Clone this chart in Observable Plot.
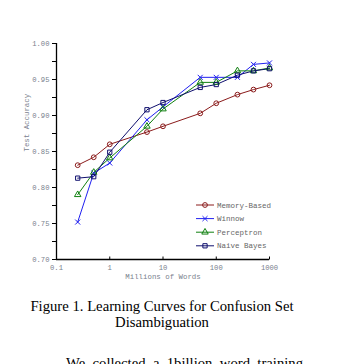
<!DOCTYPE html>
<html><head><meta charset="utf-8">
<script src="https://cdn.jsdelivr.net/npm/d3@7"></script>
<script src="https://cdn.jsdelivr.net/npm/@observablehq/plot@0.6"></script>
<style>
html,body{margin:0;padding:0;background:#fff;width:347px;height:364px;overflow:hidden;position:relative;}
#chart{position:absolute;left:0;top:0;}
#legend{position:absolute;left:0;top:0;}
.cap{position:absolute;font-family:"Liberation Serif","Times New Roman",serif;color:#000;white-space:nowrap;}
</style></head>
<body>
<div id="chart"></div>
<svg id="legend" width="347" height="290"></svg>
<div class="cap" id="cap1" style="left:0;width:324px;text-align:center;top:298px;font-size:14.7px;line-height:16px;">Figure 1. Learning Curves for Confusion Set<br>Disambiguation</div>
<div class="cap" id="cap2" style="left:66px;width:237px;top:355px;font-size:14.7px;text-align:justify;text-align-last:justify;">We collected a 1billion word training</div>
<script>
const words = [0.25, 0.5, 1, 5, 10, 50, 100, 250, 500, 1000];
const seriesNames = ["Memory-Based", "Winnow", "Perceptron", "Naive Bayes"];
const memoryBased = [0.831, 0.842, 0.860, 0.877, 0.885, 0.903, 0.917, 0.929, 0.936, 0.942];
const winnow      = [0.752, 0.820, 0.834, 0.894, 0.912, 0.953, 0.953, 0.953, 0.971, 0.973];
const perceptron  = [0.790, 0.821, 0.841, 0.885, 0.909, 0.946, 0.946, 0.962, 0.962, 0.966];
const naiveBayes  = [0.813, 0.815, 0.849, 0.908, 0.918, 0.939, 0.943, 0.956, 0.962, 0.965];
const seriesColors = ["#8b1c1c", "#2020f0", "#108010", "#10106e"];
const seriesSymbols = ["circle", "times", "triangle", "square"];
const xTicks = [0.1, 1, 10, 100, 1000];
const xTickLabels = ["0.1", "1", "10", "100", "1000"];
const yTicks = [0.70, 0.75, 0.80, 0.85, 0.90, 0.95, 1.00];
const yTickLabels = ["0.70", "0.75", "0.80", "0.85", "0.90", "0.95", "1.00"];
const yMinorTicks = [0.725, 0.775, 0.825, 0.875, 0.925, 0.975];

const allValues = [memoryBased, winnow, perceptron, naiveBayes];
const rows = [];
seriesNames.forEach((s, i) => words.forEach((w, j) => rows.push({x: w, y: allValues[i][j], series: s})));

const mono = "'Liberation Mono','DejaVu Sans Mono',monospace";
const tickColor = "#7a7f8e";
// small upward tick symbol for the x axis
const upTick = {draw(ctx) { ctx.moveTo(0, 0); ctx.lineTo(0, -3); }};

const plot = Plot.plot({
  width: 347, height: 290,
  marginTop: 43, marginBottom: 31, marginLeft: 56, marginRight: 78,
  style: {fontFamily: mono, fontSize: "7.2px", color: tickColor, background: "white"},
  x: {type: "log", domain: [0.1, 1000], axis: null},
  y: {domain: [0.70, 1.00], axis: null},
  color: {domain: seriesNames, range: seriesColors},
  symbol: {domain: seriesNames, range: seriesSymbols},
  marks: [
    Plot.axisY({ticks: yTicks, tickFormat: (d, i) => yTickLabels[i], tickSize: 4, tickPadding: 3, label: null, stroke: "#000"}),
    Plot.axisY({ticks: yMinorTicks, tickFormat: null, text: null, tickSize: 4, label: null, stroke: "#000"}),
    Plot.text(xTicks, {x: d => d, text: (d, i) => xTickLabels[i], frameAnchor: "bottom", dy: 10, fill: tickColor}),
    Plot.dot(xTicks, {x: d => d, frameAnchor: "bottom", symbol: upTick, stroke: "#000", strokeWidth: 1}),
    Plot.ruleX([0.1], {stroke: "#000", strokeWidth: 1.3}),
    Plot.ruleY([0.70], {stroke: "#000", strokeWidth: 1.3}),
    Plot.text(["Test Accuracy"], {frameAnchor: "left", dx: -30, rotate: -90, fill: tickColor, fontSize: 7.4}),
    Plot.text(["Millions of Words"], {frameAnchor: "bottom", dy: 19, fill: tickColor, fontSize: 7.4}),
    Plot.line(rows, {x: "x", y: "y", z: "series", stroke: "series", strokeWidth: 1}),
    Plot.dot(rows, {x: "x", y: "y", stroke: "series", symbol: "series", r: 2.4, fill: "none", strokeWidth: 1})
  ]
});
document.getElementById("chart").appendChild(plot);

// Legend overlay
const lg = d3.select("#legend");
const symGen = {circle: d3.symbolCircle, times: d3.symbolTimes, triangle: d3.symbolTriangle, square: d3.symbolSquare};
seriesNames.forEach((s, i) => {
  const g = lg.append("g").attr("transform", `translate(196,${205 + i * 13.6})`);
  g.append("line").attr("x1", 0).attr("x2", 18).attr("y1", 0).attr("y2", 0).attr("stroke", seriesColors[i]).attr("stroke-width", 1);
  g.append("path").attr("transform", "translate(9,0)").attr("d", d3.symbol(symGen[seriesSymbols[i]], Math.PI * 2.4 * 2.4)()).attr("fill", "none").attr("stroke", seriesColors[i]);
  g.append("text").attr("x", 21).attr("y", 0).attr("dy", "0.35em").attr("font-family", mono).attr("font-size", 7.5).attr("fill", "#666").text(s);
});
</script>
</body></html>
